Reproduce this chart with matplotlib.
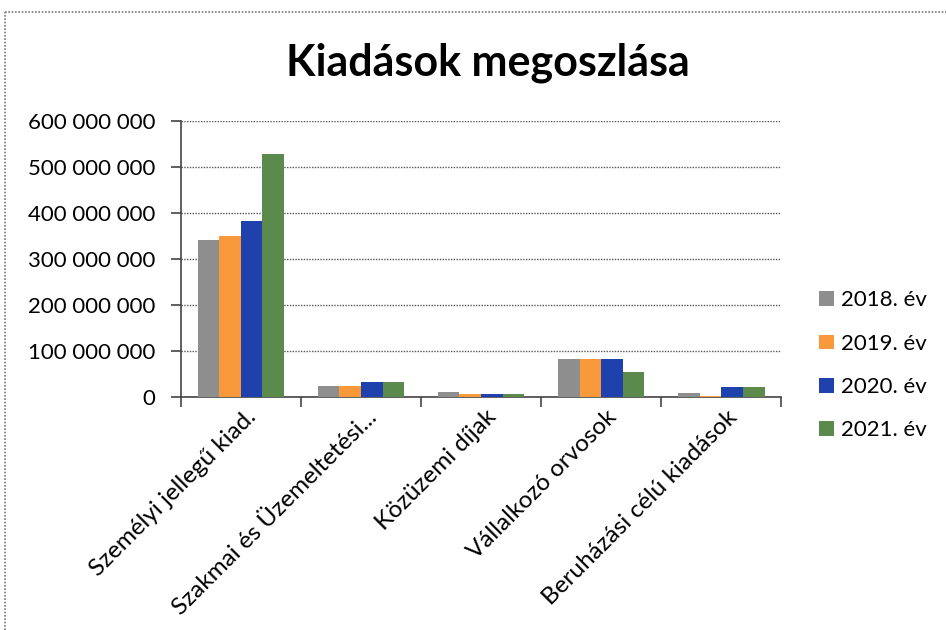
import numpy as np
import matplotlib.pyplot as plt
from matplotlib.lines import Line2D
from matplotlib.ticker import FuncFormatter

plt.rcParams['font.family'] = ['Lato', 'DejaVu Sans']

# Data
categories = ['Személyi jellegű kiad.', 'Szakmai és Üzemeltetési...',
              'Közüzemi díjak', 'Vállalkozó orvosok', 'Beruházási célú kiadások']
years = ['2018. év', '2019. év', '2020. év', '2021. év']
v2018 = [340e6, 24e6, 9.5e6, 81e6, 8e6]
v2019 = [350e6, 24e6, 6e6, 81e6, 1.5e6]
v2020 = [383e6, 31e6, 6e6, 81e6, 21e6]
v2021 = [528e6, 31e6, 5e6, 54e6, 22e6]
series = [v2018, v2019, v2020, v2021]
colors = ['#8e8e8e', '#f89a3c', '#1f41ad', '#5b8a4c']


def fmt_space(v, pos):
    return f'{int(round(v)):,}'.replace(',', ' ')


fig = plt.figure(figsize=(9.46, 6.3), dpi=100)
ax = fig.add_axes([0.191, 0.3703, 0.635, 0.438])

x = np.arange(len(categories))
w = 0.18
for i, (vals, c, lab) in enumerate(zip(series, colors, years)):
    ax.bar(x + (i - 1.5) * w, vals, width=w, color=c, label=lab, zorder=3)

ax.set_xlim(-0.5, len(categories) - 0.5)
ax.set_ylim(0, 600e6)
ax.set_yticks(np.arange(0, 600e6 + 1, 100e6))
ax.yaxis.set_major_formatter(FuncFormatter(fmt_space))
ax.grid(axis='y', color='#555555', ls=(0, (1, 1)), lw=1, zorder=0)

# category separator ticks on x axis
ax.set_xticks(np.arange(-0.5, len(categories)))
ax.set_xticklabels([])
ax.tick_params(axis='x', length=7, width=1.2, color='#444444', direction='out')
ax.tick_params(axis='y', length=7, width=1.2, color='#444444', direction='out',
               labelsize=16, pad=11)
for xi, lab in zip(x, categories):
    ax.text(xi + 0.04, -0.035, lab, transform=ax.get_xaxis_transform(),
            rotation=45, ha='right', va='top', rotation_mode='anchor',
            fontsize=17.5)

for s in ['top', 'right']:
    ax.spines[s].set_visible(False)
for s in ['left', 'bottom']:
    ax.spines[s].set_color('#444444')
    ax.spines[s].set_linewidth(1.2)

fig.text(0.516, 0.90, 'Kiadások megoszlása', ha='center', va='center',
         fontsize=31, fontweight='bold')

fig.legend(loc='center left', bbox_to_anchor=(0.866, 0.42), frameon=False,
           fontsize=16, handlelength=0.65, handleheight=0.65,
           labelspacing=1.05, handletextpad=0.35, borderpad=0,
           borderaxespad=0)

# dotted frame at top and left, as in the scanned chart
fig.add_artist(Line2D([0.005, 1.0], [0.981, 0.981], transform=fig.transFigure,
                      color='#777777', ls=(0, (1, 1)), lw=1.2))
fig.add_artist(Line2D([0.005, 0.005], [0.0, 0.981], transform=fig.transFigure,
                      color='#777777', ls=(0, (1, 1)), lw=1.2))

fig.savefig('out.png', dpi=100)
